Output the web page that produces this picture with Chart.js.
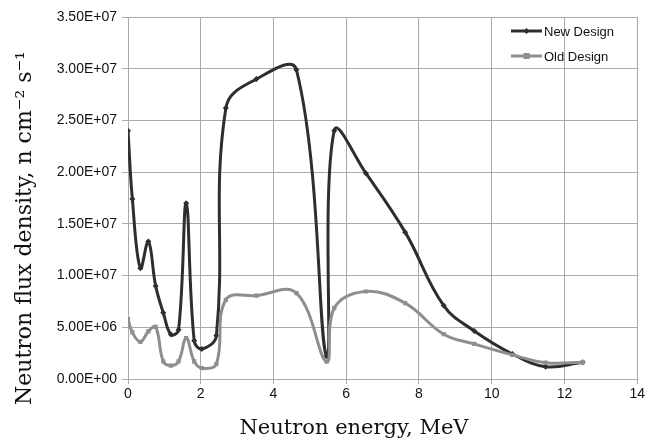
<!DOCTYPE html>
<html>
<head>
<meta charset="utf-8">
<script src="https://cdn.jsdelivr.net/npm/chart.js@4/dist/chart.umd.min.js"></script>
<style>
  html, body { margin: 0; padding: 0; background: #fff; }
  #wrap { width: 647px; height: 438px; position: relative; }
</style>
</head>
<body>
<div id="wrap"><canvas id="fluxChart" width="647" height="438"></canvas></div>
<script>
// neutron energy (MeV) - both designs share the same points
var energy = [0, 0.12, 0.34, 0.56, 0.76, 0.97, 1.18, 1.39, 1.6, 1.82, 2.03, 2.43,
              2.69, 3.53, 4.63, 5.46, 5.67, 6.54, 7.62, 8.68, 9.52, 10.57, 11.48, 12.5];

// flux density, n cm-2 s-1
var newDesign = [2.40e7, 1.74e7, 1.07e7, 1.33e7, 9.0e6, 6.4e6, 4.3e6, 4.75e6, 1.70e7, 3.7e6, 2.9e6, 4.2e6,
                 2.62e7, 2.90e7, 2.99e7, 2.2e6, 2.40e7, 1.99e7, 1.42e7, 7.1e6, 4.65e6, 2.42e6, 1.19e6, 1.62e6];
var oldDesign = [5.8e6, 4.5e6, 3.6e6, 4.6e6, 5.05e6, 1.7e6, 1.3e6, 1.7e6, 3.95e6, 1.7e6, 1.05e6, 1.45e6,
                 7.65e6, 8.07e6, 8.3e6, 1.68e6, 6.85e6, 8.46e6, 7.33e6, 4.33e6, 3.39e6, 2.33e6, 1.58e6, 1.62e6];

var seriesNames = ["New Design", "Old Design"];
var xTitle = "Neutron energy, MeV";
var yTitle = "Neutron flux density, n cm\u207B\u00B2 s\u207B\u00B9";

var darkCol = "#2e2e2e";
var greyCol = "#8e8e8e";
var gridCol = "#a9a9a9";

function toPoints(xs, ys) {
  var pts = [];
  xs.forEach(function(x, i){ pts.push({x: x, y: ys[i]}); });
  return pts;
}

// Excel style label: 3.50E+07
function sciLabel(v) {
  var parts = Number(v).toExponential(2).split("e");
  var ex = parseInt(parts[1], 10);
  var sign = ex < 0 ? "-" : "+";
  ex = Math.abs(ex);
  return parts[0] + "E" + sign + (ex < 10 ? "0" + ex : ex);
}

var extrasPlugin = {
  id: "extras",
  afterDraw: function(chart) {
    var ctx = chart.ctx;
    ctx.save();
    // axis titles
    ctx.fillStyle = "#111";
    ctx.font = "21px 'DejaVu Serif'";
    ctx.textAlign = "center";
    ctx.textBaseline = "alphabetic";
    ctx.fillText(xTitle, 354, 434);
    ctx.font = "22px 'DejaVu Serif'";
    ctx.translate(31, 228);
    ctx.rotate(-Math.PI / 2);
    ctx.fillText(yTitle, 0, 0);
    ctx.restore();

    // legend, inside plot top right
    ctx.save();
    var rows = [
      {name: seriesNames[0], col: darkCol, style: "diamond", y: 31},
      {name: seriesNames[1], col: greyCol, style: "square", y: 56}
    ];
    rows.forEach(function(r){
      ctx.strokeStyle = r.col;
      ctx.lineWidth = 3;
      ctx.beginPath();
      ctx.moveTo(511, r.y);
      ctx.lineTo(542, r.y);
      ctx.stroke();
      ctx.fillStyle = r.col;
      if (r.style == "diamond") {
        ctx.beginPath();
        ctx.moveTo(526.5, r.y - 3);
        ctx.lineTo(529.5, r.y);
        ctx.lineTo(526.5, r.y + 3);
        ctx.lineTo(523.5, r.y);
        ctx.closePath();
        ctx.fill();
      } else {
        ctx.fillRect(523.5, r.y - 3, 6, 6);
      }
      ctx.fillStyle = "#111";
      ctx.font = "13px 'Liberation Sans'";
      ctx.textAlign = "left";
      ctx.textBaseline = "middle";
      ctx.fillText(r.name, 544, r.y + 1);
    });
    ctx.restore();
  }
};

var chart = new Chart(document.getElementById("fluxChart"), {
  type: "line",
  data: {
    datasets: [
      {
        label: seriesNames[0],
        data: toPoints(energy, newDesign),
        borderColor: darkCol,
        backgroundColor: darkCol,
        borderWidth: 3,
        pointStyle: "rectRot",
        pointRadius: 3,
        pointBorderWidth: 0,
        tension: 0.4,
        order: 1
      },
      {
        label: seriesNames[1],
        data: toPoints(energy, oldDesign),
        borderColor: greyCol,
        backgroundColor: greyCol,
        borderWidth: 3,
        pointStyle: "rect",
        pointRadius: 3,
        pointBorderWidth: 0,
        tension: 0.4,
        order: 0
      }
    ]
  },
  options: {
    responsive: false,
    animation: false,
    events: [],
    layout: { padding: { left: 0, right: 6, top: 17, bottom: 0 } },
    plugins: {
      legend: { display: false },
      tooltip: { enabled: false }
    },
    scales: {
      x: {
        type: "linear",
        min: 0,
        max: 14,
        ticks: {
          stepSize: 2,
          color: "#111",
          font: { family: "'Liberation Sans'", size: 14 },
          padding: 2
        },
        grid: { color: gridCol, lineWidth: 1, tickLength: 5, tickColor: gridCol },
        border: { color: gridCol },
        afterFit: function(s){ s.height = 59; }
      },
      y: {
        min: 0,
        max: 3.5e7,
        ticks: {
          stepSize: 5e6,
          color: "#111",
          font: { family: "'Liberation Sans'", size: 14 },
          padding: 5,
          callback: function(v){ return sciLabel(v); }
        },
        grid: { color: gridCol, lineWidth: 1, tickLength: 6, tickColor: gridCol },
        border: { color: gridCol },
        afterFit: function(s){ s.width = 128; }
      }
    }
  },
  plugins: [extrasPlugin]
});
</script>
</body>
</html>
